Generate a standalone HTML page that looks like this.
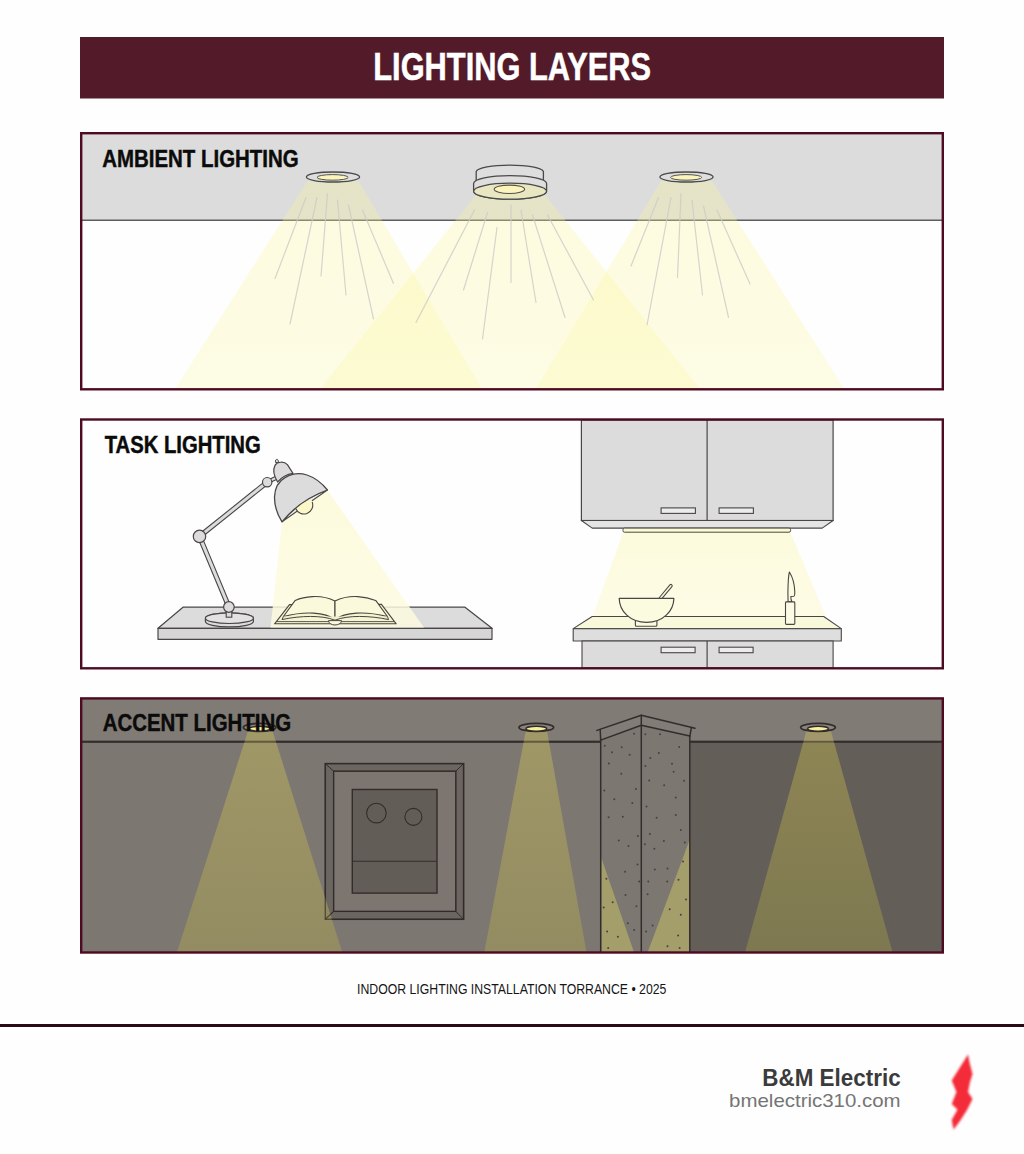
<!DOCTYPE html>
<html lang="en">
<head>
<meta charset="utf-8">
<title>Lighting Layers</title>
<style>
html,body{margin:0;padding:0;background:#fefefe;}
body{width:1024px;height:1154px;overflow:hidden;font-family:"Liberation Sans",sans-serif;}
svg{display:block;}
text{font-family:"Liberation Sans",sans-serif;}
</style>
</head>
<body>
<svg width="1024" height="1154" viewBox="0 0 1024 1154">
<defs>
<linearGradient id="beamA" x1="0" y1="0" x2="0" y2="1">
<stop offset="0" stop-color="#faf696" stop-opacity="0.30"/>
<stop offset="1" stop-color="#faf696" stop-opacity="0.245"/>
</linearGradient>
<linearGradient id="beamT" x1="0" y1="0" x2="0" y2="1">
<stop offset="0" stop-color="#fcfad8" stop-opacity="0.88"/>
<stop offset="1" stop-color="#fdfbe0" stop-opacity="0.83"/>
</linearGradient>
<linearGradient id="beamC" x1="0" y1="0" x2="0" y2="1">
<stop offset="0" stop-color="#afa561" stop-opacity="0.7"/>
<stop offset="1" stop-color="#9c955b" stop-opacity="0.7"/>
</linearGradient>
<linearGradient id="beamD" x1="0" y1="0" x2="0" y2="1">
<stop offset="0" stop-color="#8e8554"/>
<stop offset="1" stop-color="#7d7850"/>
</linearGradient>
<filter id="blur1" x="-50%" y="-20%" width="200%" height="140%"><feGaussianBlur stdDeviation="1.3"/></filter>
</defs>
<rect x="0" y="0" width="1024" height="1154" fill="#fefefe"/>

<rect x="80" y="37" width="864" height="61.5" fill="#531b29"/>
<text x="373.3" y="80" font-size="38" font-weight="700" fill="#ffffff" stroke="#ffffff" stroke-width="0.5" textLength="277.7" lengthAdjust="spacingAndGlyphs">LIGHTING LAYERS</text>
<g id="ambient">
<rect x="81.2" y="133.2" width="861.6" height="256" fill="#fefefe"/>
<rect x="81.2" y="133.2" width="861.6" height="87" fill="#dcdcdc"/>
<line x1="81" y1="220.2" x2="943" y2="220.2" stroke="#5e5e5e" stroke-width="1.4"/>
<polygon points="307.5,181 358.5,181 482,389 175,389" fill="url(#beamA)"/>
<polygon points="476,195 545,195 700.2,389 320,389" fill="url(#beamA)"/>
<polygon points="661,181 712,181 844.5,389 536,389" fill="url(#beamA)"/>
<g stroke="#cacac8" stroke-width="1.2" stroke-opacity="0.8" fill="none" stroke-linecap="round">
<line x1="306.0" y1="197.5" x2="275.0" y2="278.5"/>
<line x1="317.0" y1="197.5" x2="290.0" y2="324.0"/>
<line x1="327.5" y1="193.5" x2="321.0" y2="276.0"/>
<line x1="337.5" y1="200.0" x2="346.0" y2="295.0"/>
<line x1="348.5" y1="205.0" x2="373.5" y2="319.0"/>
<line x1="362.5" y1="210.0" x2="393.5" y2="283.5"/>
<line x1="474.5" y1="210.0" x2="416.0" y2="322.5"/>
<line x1="487.5" y1="212.5" x2="463.5" y2="290.0"/>
<line x1="497.0" y1="227.5" x2="482.5" y2="339.0"/>
<line x1="511.0" y1="205.0" x2="511.0" y2="282.5"/>
<line x1="521.0" y1="210.0" x2="536.0" y2="302.5"/>
<line x1="532.5" y1="215.0" x2="565.0" y2="317.5"/>
<line x1="547.5" y1="215.0" x2="593.5" y2="300.0"/>
<line x1="658.5" y1="197.5" x2="631.0" y2="266.0"/>
<line x1="671.0" y1="197.5" x2="647.0" y2="325.0"/>
<line x1="681.0" y1="193.5" x2="677.5" y2="277.5"/>
<line x1="692.0" y1="200.0" x2="702.5" y2="295.0"/>
<line x1="703.5" y1="206.0" x2="728.5" y2="317.5"/>
<line x1="717.0" y1="210.0" x2="750.0" y2="284.0"/>
</g>
<ellipse cx="333.0" cy="177" rx="26.6" ry="5" fill="#dedede" stroke="#4a4a4a" stroke-width="1.3"/>
<ellipse cx="332.6" cy="177.4" rx="15.6" ry="2.8" fill="#fbf5bd" stroke="#55524a" stroke-width="1"/>
<ellipse cx="686.5" cy="177" rx="26.6" ry="5" fill="#dedede" stroke="#4a4a4a" stroke-width="1.3"/>
<ellipse cx="686.1" cy="177.4" rx="15.6" ry="2.8" fill="#fbf5bd" stroke="#55524a" stroke-width="1"/>
<path d="M476.2,171.5 A33.7,7 0 0 1 543.4,171.5 L543.4,181.5 A33.7,7 0 0 1 476.2,181.5 Z" fill="#dedede" stroke="#4a4a4a" stroke-width="1.3"/>
<path d="M473.6,183.6 A36.5,8 0 0 1 546.6,183.6 L546.6,191.2 A36.5,8 0 0 1 473.6,191.2 Z" fill="#dedede" stroke="#4a4a4a" stroke-width="1.3"/>
<ellipse cx="510.1" cy="191.2" rx="36.5" ry="8" fill="#e9e6c2" stroke="#4a4a4a" stroke-width="1.3"/>
<ellipse cx="509.4" cy="189.3" rx="15.2" ry="4.2" fill="#fbf5bd" stroke="#55524a" stroke-width="1.1"/>
<rect x="81.2" y="133.2" width="861.6" height="256.1" fill="none" stroke="#4e0a22" stroke-width="2.4"/>
<text x="102.2" y="166.5" font-size="23.6" font-weight="700" fill="#0b0b0b" stroke="#0b0b0b" stroke-width="0.45" textLength="196.5" lengthAdjust="spacingAndGlyphs">AMBIENT LIGHTING</text>
</g>
<g id="task">
<rect x="81.2" y="419.5" width="861.6" height="248.8" fill="#fefefe"/>
<polygon points="183,607.2 465,607.2 492,628.3 158,628.3" fill="#dcdcdc" stroke="#4a4646" stroke-width="1.2" stroke-linejoin="round"/>
<rect x="158" y="628.3" width="334" height="11" fill="#d6d6d6" stroke="#4a4646" stroke-width="1.2" stroke-linejoin="round"/>
<polygon points="282,522 327.3,490 424,627.6 270.5,627.6" fill="url(#beamT)"/>
<path d="M205.4,618.2 A24,5.3 0 0 1 253.4,618.2 L253.4,621.6 A24,5.3 0 0 1 205.4,621.6 Z" fill="#dcdcdc" stroke="#4a4646" stroke-width="1.2"/>
<ellipse cx="229.4" cy="618.2" rx="24" ry="5.3" fill="#e2e2e2" stroke="#4a4646" stroke-width="1.2"/>
<rect x="226.2" y="611" width="5.6" height="6.2" fill="#dcdcdc" stroke="#4a4646" stroke-width="1.1"/>
<polygon points="197.6,537.2 227.0,607.8 230.8,606.2 201.4,535.6" fill="#dcdcdc" stroke="#4a4646" stroke-width="1.1" stroke-linejoin="round"/>
<polygon points="200.8,538.0 268.5,483.8 265.9,480.6 198.2,534.8" fill="#dcdcdc" stroke="#4a4646" stroke-width="1.1" stroke-linejoin="round"/>
<polygon points="267.9,483.6 279.7,477.9 278.3,475.1 266.5,480.8" fill="#dcdcdc" stroke="#4a4646" stroke-width="1.1" stroke-linejoin="round"/>
<circle cx="228.9" cy="607" r="5.3" fill="#dcdcdc" stroke="#4a4646" stroke-width="1.2"/>
<circle cx="199.5" cy="536.4" r="6.2" fill="#dcdcdc" stroke="#4a4646" stroke-width="1.2"/>
<path d="M275.6,462.6 C275,460.4 276,459 277.2,459.4 C278.2,459.8 278.6,461 278.4,462.4 Z" fill="#dcdcdc" stroke="#4a4646" stroke-width="1"/>
<path d="M277.6,482 C274,476 272.6,470 275,465.4 C277,461.6 284,461 287.4,464.6 L293,473.4 C286,474.5 281,478 277.6,482 Z" fill="#dcdcdc" stroke="#4a4646" stroke-width="1.2" stroke-linejoin="round"/>
<circle cx="267.2" cy="482.2" r="4.7" fill="#dcdcdc" stroke="#4a4646" stroke-width="1.2"/>
<path d="M282,521.8 L327.4,490 Q300.5,499.5 282,521.8 Z" fill="#ebebeb" stroke="#4a4646" stroke-width="1.1" stroke-linejoin="round"/>
<path d="M295.6,508.2 A8.8,8.8 0 0 0 312.2,502 L311.5,499.4 L295.4,506 Z" fill="#fbf7c8" stroke="none"/>
<path d="M295.6,508.2 A8.8,8.8 0 0 0 312.2,502" fill="none" stroke="#4a4646" stroke-width="1.1"/>
<path d="M282,521.8 C277,514 274.4,505 274.5,497 C274.8,488 279,481 285,477.6 C292,473.4 300,472.6 307,475 C316,478 322.6,484 327.4,490 Q300.5,499.5 282,521.8 Z" fill="#dcdcdc" stroke="#4a4646" stroke-width="1.3" stroke-linejoin="round"/>
<polygon points="289.5,604.6 381.3,604.2 396.2,623.8 274.6,623.8" fill="#f6f4d2" stroke="#4a4640" stroke-width="1.1" stroke-linejoin="round"/>
<line x1="277" y1="621.6" x2="394" y2="621.6" stroke="#4a4640" stroke-width="0.9"/>
<path d="M295.2,600.4 C303,597 320,593.5 335,601.1 L335,619.6 C325,612 305,611 283.4,616.5 Z" fill="#fbf9dc" stroke="#4a4640" stroke-width="1.1" stroke-linejoin="round"/>
<path d="M375.7,600.4 C367,597 350,593.5 335,601.1 L335,619.6 C345,612 365,611 387.4,616.5 Z" fill="#fbf9dc" stroke="#4a4640" stroke-width="1.1" stroke-linejoin="round"/>
<path d="M283.4,616.5 L282,619.6 C300,615.6 322,615 335,620.2 C348,615 370,615.6 388.6,619.6 L387.4,616.5" fill="#efedcc" stroke="#4a4640" stroke-width="1" stroke-linejoin="round"/>
<path d="M328.5,620.6 A6.5,4.4 0 0 0 341.5,620.6 Z" fill="#fbf9dc" stroke="#4a4640" stroke-width="1"/>
<polygon points="623.3,532 790.3,532 826,616.8 592.6,616.8" fill="url(#beamT)"/>
<polygon points="624,532 790.5,532 823.7,616.8 592.2,616.8" fill="url(#beamT)" opacity="0"/>
<rect x="581.4" y="420" width="251.7" height="100.5" fill="#dcdcdc" stroke="#4a4646" stroke-width="1.2"/>
<line x1="707.1" y1="420" x2="707.1" y2="520.5" stroke="#4a4646" stroke-width="1.2"/>
<polygon points="581.4,520.5 833.1,520.5 822.2,528.1 592.2,528.1" fill="#e4e4e4" stroke="#4a4646" stroke-width="1.1" stroke-linejoin="round"/>
<rect x="623" y="528.1" width="167.6" height="4.1" rx="1.6" fill="#fcfad6" stroke="#4a4646" stroke-width="1"/>
<rect x="661.1" y="507.9" width="34.3" height="5.5" fill="#ececec" stroke="#4a4646" stroke-width="1.1"/>
<rect x="661.1" y="647.2" width="34" height="5.5" fill="#ececec" stroke="#4a4646" stroke-width="1.1"/>
<rect x="719.1" y="507.9" width="34.3" height="5.5" fill="#ececec" stroke="#4a4646" stroke-width="1.1"/>
<rect x="719.1" y="647.2" width="34" height="5.5" fill="#ececec" stroke="#4a4646" stroke-width="1.1"/>
<polygon points="592.2,616.5 823.7,616.5 841.3,628.6 573.2,628.6" fill="#f8f8da" stroke="#4a4646" stroke-width="1.1" stroke-linejoin="round"/>
<rect x="573.2" y="628.8" width="268.1" height="12.2" fill="#dedede" stroke="#4a4646" stroke-width="1.1" stroke-linejoin="round"/>
<rect x="582" y="641" width="251.1" height="27" fill="#dcdcdc" stroke="#4a4646" stroke-width="1.1"/>
<line x1="707.1" y1="641" x2="707.1" y2="668" stroke="#4a4646" stroke-width="1.2"/>
<rect x="661.1" y="647.2" width="34" height="5.5" fill="#ececec" stroke="#4a4646" stroke-width="1.1"/>
<rect x="719.1" y="647.2" width="34" height="5.5" fill="#ececec" stroke="#4a4646" stroke-width="1.1"/>
<line x1="660.2" y1="598.6" x2="670.9" y2="585.8" stroke="#4a4646" stroke-width="3.7" stroke-linecap="round"/>
<line x1="660.2" y1="598.6" x2="670.9" y2="585.8" stroke="#fafadc" stroke-width="1.6" stroke-linecap="round"/>
<path d="M635.4,620 L635.4,625.2 Q635.4,626.2 636.4,626.2 L655.9,626.2 Q656.9,626.2 656.9,625.2 L656.9,620 Z" fill="#fbfbe0" stroke="#4a4646" stroke-width="1.1"/>
<path d="M619.2,598.4 L673.9,598.4 C673.6,611 663,622.3 646.6,622.3 C630,622.3 619.5,611 619.2,598.4 Z" fill="#fbfbe0" stroke="#4a4646" stroke-width="1.2" stroke-linejoin="round"/>
<path d="M789.4,572 C788.2,576 788,585 787.9,593 L788.1,601.9 L792,601.9 C791.2,600.5 790.8,598.5 790.8,596.5 L793.9,596.3 C794.8,595.5 794.9,594 794.8,592 C794.6,584 792.5,577 789.4,572 Z" fill="#fbfbe2" stroke="#4a4646" stroke-width="1.1" stroke-linejoin="round"/>
<rect x="785.5" y="601.9" width="9.3" height="22.5" rx="0.9" fill="#fbfbe4" stroke="#4a4646" stroke-width="1.1"/>
<rect x="81.2" y="419.5" width="861.6" height="248.8" fill="none" stroke="#4e0a22" stroke-width="2.4"/>
<text x="104.7" y="453.3" font-size="23.6" font-weight="700" fill="#0b0b0b" stroke="#0b0b0b" stroke-width="0.45" textLength="156" lengthAdjust="spacingAndGlyphs">TASK LIGHTING</text>
</g>
<g id="accent">
<rect x="81.2" y="698.4" width="861.6" height="254.1" fill="#7d7772"/>
<rect x="81.2" y="698.4" width="861.6" height="43.5" fill="#817b76"/>
<rect x="689.8" y="741.8" width="253" height="210.6" fill="#645e59"/>
<line x1="81" y1="741.8" x2="600.7" y2="741.8" stroke="#342c2c" stroke-width="2"/>
<line x1="689.8" y1="741.8" x2="943" y2="741.8" stroke="#342c2c" stroke-width="2"/>
<rect x="325.3" y="763.6" width="138.3" height="155.7" fill="#6c6661" stroke="#342c2c" stroke-width="1.5"/>
<rect x="333.6" y="771.2" width="122.2" height="140.2" fill="#7c7570" stroke="#342c2c" stroke-width="1.3"/>
<g stroke="#342c2c" stroke-width="1">
<line x1="325.3" y1="763.6" x2="333.6" y2="771.2"/><line x1="463.6" y1="763.6" x2="455.8" y2="771.2"/><line x1="325.3" y1="919.3" x2="333.6" y2="911.4"/><line x1="463.6" y1="919.3" x2="455.8" y2="911.4"/>
</g>
<rect x="352.3" y="789.5" width="84.7" height="103.6" fill="#635d57" stroke="#342c2c" stroke-width="1.4"/>
<line x1="352.3" y1="861.2" x2="437" y2="861.2" stroke="#342c2c" stroke-width="1.1"/>
<circle cx="376.4" cy="813.1" r="9.8" fill="none" stroke="#342c2c" stroke-width="1.1"/>
<circle cx="413.4" cy="816.9" r="8.5" fill="none" stroke="#342c2c" stroke-width="1.1"/>
<polygon points="600.7,740 641.3,725.2 689.8,736.1 689.8,952.4 600.7,952.4" fill="#7d7772"/>
<polygon points="600.2,729.4 641.3,715.3 691.4,727.4 689.8,736.1 641.3,725.2 600.7,740.1" fill="#827c77"/>
<polygon points="601.3,857.8 634.1,952.4 601.3,952.4" fill="#a49e6a"/>
<polygon points="689.2,840.9 689.2,952.4 647.6,952.4" fill="#a49e6a"/>
<g stroke="#342c2c" stroke-width="1.5" fill="none" stroke-linejoin="round" stroke-linecap="round">
<polyline points="596.9,730.4 641.3,715.3 695,728.2"/>
<polyline points="600.7,740.1 641.3,725.2 689.8,736.1"/>
<line x1="600.2" y1="729.6" x2="600.7" y2="740.1"/>
<line x1="691.4" y1="727.6" x2="689.8" y2="736.1"/>
<line x1="600.7" y1="739" x2="600.7" y2="952"/>
<line x1="689.8" y1="736" x2="689.8" y2="952"/>
<line x1="641.3" y1="715.3" x2="641.3" y2="952"/>
</g>
<g fill="#4a4044">
<circle cx="634.1" cy="733.8" r="1"/>
<circle cx="604.8" cy="745.8" r="1"/>
<circle cx="621.7" cy="747.3" r="1"/>
<circle cx="612.0" cy="752.3" r="1"/>
<circle cx="629.6" cy="754.8" r="1"/>
<circle cx="608.9" cy="763.6" r="1"/>
<circle cx="621.3" cy="773.7" r="1"/>
<circle cx="604.3" cy="790.6" r="1"/>
<circle cx="635.9" cy="789.0" r="1"/>
<circle cx="614.3" cy="799.2" r="1"/>
<circle cx="632.3" cy="803.0" r="1"/>
<circle cx="608.6" cy="817.2" r="1"/>
<circle cx="622.8" cy="816.8" r="1"/>
<circle cx="637.9" cy="835.9" r="1"/>
<circle cx="618.8" cy="840.4" r="1"/>
<circle cx="628.5" cy="846.1" r="1"/>
<circle cx="637.5" cy="864.6" r="1"/>
<circle cx="625.1" cy="871.8" r="1"/>
<circle cx="606.4" cy="878.8" r="1"/>
<circle cx="639.1" cy="881.5" r="1"/>
<circle cx="625.5" cy="895.0" r="1"/>
<circle cx="612.7" cy="902.2" r="1"/>
<circle cx="636.4" cy="906.3" r="1"/>
<circle cx="603.7" cy="907.4" r="1"/>
<circle cx="627.8" cy="923.2" r="1"/>
<circle cx="634.1" cy="929.9" r="1"/>
<circle cx="607.1" cy="931.5" r="1"/>
<circle cx="617.9" cy="936.7" r="1"/>
<circle cx="608.2" cy="948.0" r="1"/>
<circle cx="645.4" cy="734.3" r="1"/>
<circle cx="660.0" cy="734.3" r="1"/>
<circle cx="679.2" cy="746.9" r="1"/>
<circle cx="658.9" cy="753.0" r="1"/>
<circle cx="650.3" cy="757.9" r="1"/>
<circle cx="645.4" cy="766.1" r="1"/>
<circle cx="672.0" cy="763.8" r="1"/>
<circle cx="673.6" cy="771.7" r="1"/>
<circle cx="684.1" cy="780.7" r="1"/>
<circle cx="649.2" cy="780.5" r="1"/>
<circle cx="664.1" cy="785.2" r="1"/>
<circle cx="675.8" cy="797.6" r="1"/>
<circle cx="646.5" cy="806.4" r="1"/>
<circle cx="675.8" cy="815.0" r="1"/>
<circle cx="656.6" cy="817.7" r="1"/>
<circle cx="680.8" cy="830.1" r="1"/>
<circle cx="649.9" cy="834.1" r="1"/>
<circle cx="663.9" cy="840.9" r="1"/>
<circle cx="644.9" cy="844.3" r="1"/>
<circle cx="654.4" cy="848.8" r="1"/>
<circle cx="684.8" cy="842.5" r="1"/>
<circle cx="683.0" cy="861.6" r="1"/>
<circle cx="667.5" cy="868.6" r="1"/>
<circle cx="654.8" cy="869.5" r="1"/>
<circle cx="678.5" cy="879.7" r="1"/>
<circle cx="667.2" cy="881.5" r="1"/>
<circle cx="648.3" cy="881.5" r="1"/>
<circle cx="647.6" cy="894.3" r="1"/>
<circle cx="686.0" cy="899.5" r="1"/>
<circle cx="669.7" cy="909.2" r="1"/>
<circle cx="680.8" cy="914.8" r="1"/>
<circle cx="652.6" cy="925.4" r="1"/>
<circle cx="646.1" cy="931.5" r="1"/>
<circle cx="678.1" cy="935.6" r="1"/>
<circle cx="667.5" cy="946.2" r="1"/>
<circle cx="679.6" cy="948.0" r="1"/>
</g>
<polygon points="247.8,731.5 272.7,731.5 342.3,952.4 176.9,952.4" fill="url(#beamC)"/>
<polygon points="525.6,731.4 547.1,731.4 586.5,952.4 484.3,952.4" fill="url(#beamC)"/>
<polygon points="806.1,731.5 831,731.5 833.9,741.8 803.4,741.8" fill="#a1976a"/>
<polygon points="803.4,741.8 833.9,741.8 892.6,952.4 745,952.4" fill="url(#beamD)"/>
<g stroke="#342c2c" stroke-width="1.2" fill="none" stroke-opacity="0.6"><rect x="325.3" y="763.6" width="138.3" height="155.7"/><rect x="333.6" y="771.2" width="122.2" height="140.2"/><line x1="325.3" y1="919.3" x2="333.6" y2="911.4"/></g>
<line x1="81" y1="741.8" x2="600.7" y2="741.8" stroke="#342c2c" stroke-width="2" stroke-opacity="0.45"/>
<line x1="689.8" y1="741.8" x2="943" y2="741.8" stroke="#342c2c" stroke-width="2" stroke-opacity="0.45"/>
<ellipse cx="259.6" cy="727.4" rx="16.2" ry="4" fill="#8a847e" stroke="#342c2c" stroke-width="1.8"/>
<ellipse cx="259.6" cy="728.8" rx="10.4" ry="2.5" fill="#f5f29c" stroke="#342c2c" stroke-width="1.5"/>
<ellipse cx="536.3" cy="727.4" rx="17.3" ry="4" fill="#8a847e" stroke="#342c2c" stroke-width="1.8"/>
<ellipse cx="536.3" cy="728.8" rx="10.4" ry="2.5" fill="#f5f29c" stroke="#342c2c" stroke-width="1.5"/>
<ellipse cx="818.0" cy="727.4" rx="17.3" ry="4" fill="#8a847e" stroke="#342c2c" stroke-width="1.8"/>
<ellipse cx="818.0" cy="728.8" rx="10.4" ry="2.5" fill="#f5f29c" stroke="#342c2c" stroke-width="1.5"/>
<rect x="81.2" y="698.4" width="861.6" height="254.1" fill="none" stroke="#4e0a22" stroke-width="2.4"/>
<text x="102.7" y="730.8" font-size="23.6" font-weight="700" fill="#0b0b0b" stroke="#0b0b0b" stroke-width="0.45" textLength="188.4" lengthAdjust="spacingAndGlyphs">ACCENT LIGHTING</text>
</g>
<text x="357.1" y="994" font-size="14" fill="#151515" textLength="309.3" lengthAdjust="spacingAndGlyphs">INDOOR LIGHTING INSTALLATION TORRANCE • 2025</text>
<rect x="0" y="1024" width="1024" height="3" fill="#2a0a12"/>
<text x="762.3" y="1085.8" font-size="23" font-weight="700" fill="#3b3b3b" textLength="138.3" lengthAdjust="spacingAndGlyphs">B&amp;M Electric</text>
<text x="729.1" y="1107" font-size="18.6" fill="#757575" textLength="171.5" lengthAdjust="spacingAndGlyphs">bmelectric310.com</text>
<g filter="url(#blur1)"><path d="M968,1054.5 L969.6,1063 L972.5,1074 L970,1082 L968,1092 L972.5,1099 L967,1110 L960,1121 L953.5,1129.5 L951.7,1120 L957.5,1109.5 L951.7,1104 L956.5,1092 L951.7,1080.5 L958.6,1069.5 L964.6,1060 Z" fill="#f31c2a" fill-opacity="0.94"/></g>
</svg>
</body>
</html>
